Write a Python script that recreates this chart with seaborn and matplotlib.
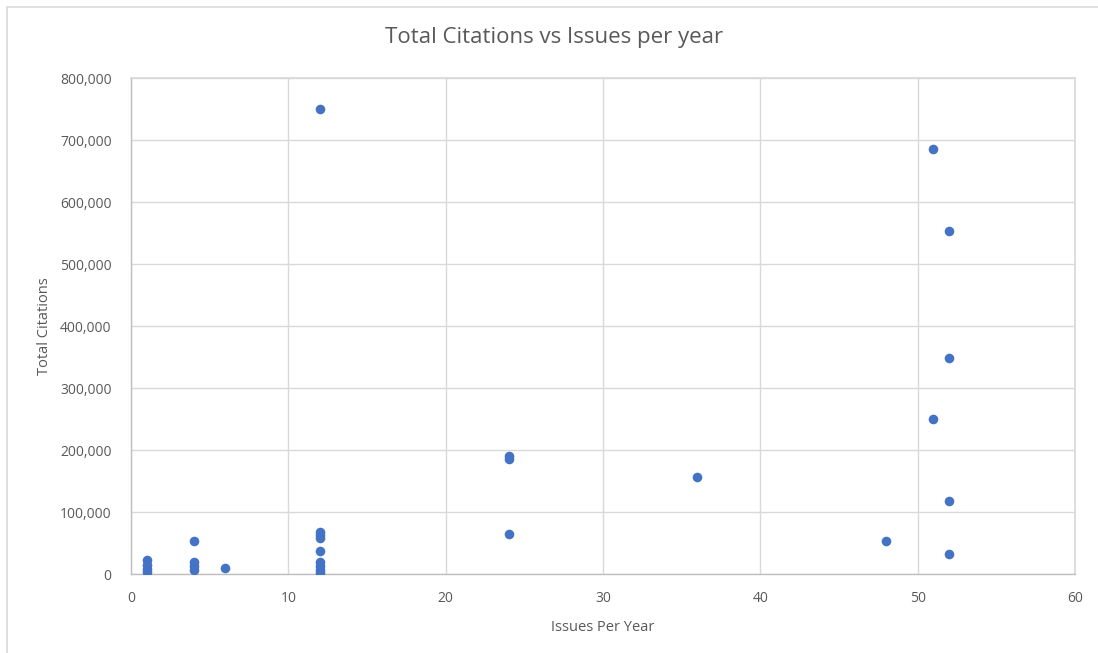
import matplotlib
matplotlib.use("Agg")
import matplotlib.pyplot as plt
from matplotlib.ticker import FuncFormatter, MultipleLocator
from matplotlib.lines import Line2D
import seaborn as sns
import pandas as pd

# Journals: publication frequency against accumulated citations
issues_per_year = [1, 1, 1, 1,
                   4, 4, 4, 4,
                   6,
                   12, 12, 12, 12, 12, 12, 12, 12, 12,
                   24, 24, 24,
                   36,
                   48,
                   51, 51,
                   52, 52, 52, 52]
total_citations = [22000, 15000, 8000, 3000,
                   53000, 20000, 13000, 6000,
                   10000,
                   750000, 68000, 63000, 58000, 37000, 20000, 13000, 7000, 2000,
                   190000, 185000, 65000,
                   157000,
                   53000,
                   686000, 250000,
                   553000, 348000, 118000, 32000]

df = pd.DataFrame({"Issues Per Year": issues_per_year,
                   "Total Citations": total_citations})

sns.set_theme(style="white")
plt.rcParams["font.family"] = ["Open Sans", "DejaVu Sans"]

text_grey = "#595959"
grid_grey = "#d9d9d9"

fig = plt.figure(figsize=(10.98, 6.53), dpi=100)
ax = fig.add_axes([131 / 1098, 1 - 574 / 653, (1075 - 131) / 1098, (574 - 78) / 653])

sns.scatterplot(data=df, x="Issues Per Year", y="Total Citations", ax=ax,
                color="#4472C4", s=48, edgecolor="#4472C4", linewidth=0,
                zorder=3)

ax.set_xlim(0, 60)
ax.set_ylim(0, 800000)
ax.xaxis.set_major_locator(MultipleLocator(10))
ax.yaxis.set_major_locator(MultipleLocator(100000))
ax.yaxis.set_major_formatter(FuncFormatter(lambda v, p: f"{int(v):,}"))

ax.grid(True, color=grid_grey, linewidth=1.0, zorder=0)
ax.set_axisbelow(True)
for side in ["top", "right"]:
    ax.spines[side].set_visible(True)
    ax.spines[side].set_color(grid_grey)
for side in ["left", "bottom"]:
    ax.spines[side].set_color("#bfbfbf")
    ax.spines[side].set_linewidth(1.0)

ax.tick_params(axis="both", colors=text_grey, labelsize=10, width=0.8,
               direction="out")
ax.tick_params(axis="x", length=0, pad=12)
ax.tick_params(axis="y", color="#bfbfbf", length=6, pad=8)

ax.set_xlabel("Issues Per Year", color=text_grey, fontsize=10.5, labelpad=10)
ax.set_ylabel("Total Citations", color=text_grey, fontsize=10.5, labelpad=6)

# title is centred on the whole chart area
fig.text(554 / 1098, 1 - 37 / 653, "Total Citations vs Issues per year",
         color=text_grey, fontsize=16, fontweight="medium",
         ha="center", va="center")

# chart-area border along the top and left edges
fig.add_artist(Line2D([7 / 1098, 1.0], [1 - 7 / 653, 1 - 7 / 653],
                      transform=fig.transFigure, color="#d9d9d9", linewidth=1.2))
fig.add_artist(Line2D([7 / 1098, 7 / 1098], [0.0, 1 - 7 / 653],
                      transform=fig.transFigure, color="#d9d9d9", linewidth=1.2))

fig.savefig("out.png", dpi=100, facecolor="white")
